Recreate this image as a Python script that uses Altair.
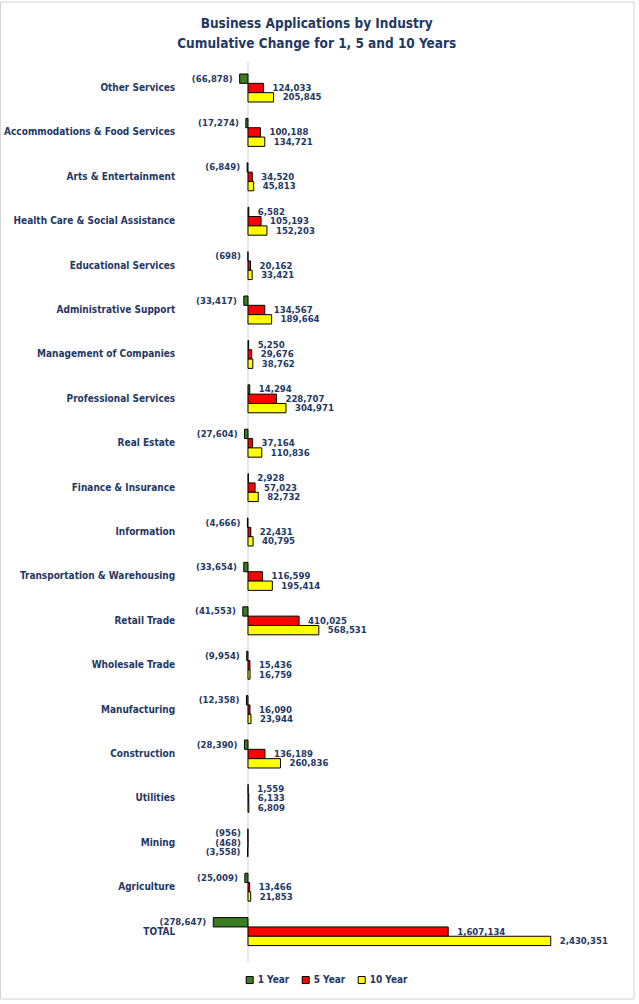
import altair as alt
import pandas as pd

industries = [
    "Other Services", "Accommodations & Food Services", "Arts & Entertainment",
    "Health Care & Social Assistance", "Educational Services", "Administrative Support",
    "Management of Companies", "Professional Services", "Real Estate",
    "Finance & Insurance", "Information", "Transportation & Warehousing",
    "Retail Trade", "Wholesale Trade", "Manufacturing", "Construction",
    "Utilities", "Mining", "Agriculture", "TOTAL",
]
one_year = [-66878, -17274, -6849, 6582, -698, -33417, 5250, 14294, -27604, 2928,
            -4666, -33654, -41553, -9954, -12358, -28390, 1559, -956, -25009, -278647]
five_year = [124033, 100188, 34520, 105193, 20162, 134567, 29676, 228707, 37164, 57023,
             22431, 116599, 410025, 15436, 16090, 136189, 6133, -468, 13466, 1607134]
ten_year = [205845, 134721, 45813, 152203, 33421, 189664, 38762, 304971, 110836, 82732,
            40795, 195414, 568531, 16759, 23944, 260836, 6809, -3558, 21853, 2430351]
series_names = ["1 Year", "5 Year", "10 Year"]
series_colors = ["#3B7D23", "#FF0000", "#FFFF00"]

rows = []
for i, ind in enumerate(industries):
    for s, vals in zip(series_names, [one_year, five_year, ten_year]):
        v = vals[i]
        lab = f"{v:,}" if v >= 0 else f"({-v:,})"
        rows.append({"industry": ind, "series": s, "value": v, "label": lab})
df = pd.DataFrame(rows)

NAVY = "#1F3864"
FONT = "Liberation Sans Narrow, Arial Narrow, DejaVu Sans Condensed, sans-serif"

y_enc = alt.Y("industry:N", sort=industries,
              scale=alt.Scale(paddingInner=0.37, paddingOuter=0.185),
              axis=alt.Axis(title=None, domain=False, ticks=False, labelFontWeight="bold",
                            labelFontSize=10, labelColor=NAVY, labelFont=FONT,
                            labelPadding=11, labelLimit=300))
yoff = alt.YOffset("series:N", sort=series_names)
x_enc = alt.X("value:Q", scale=alt.Scale(domain=[-500000, 3000000], nice=False, zero=False),
              axis=None)

base = alt.Chart(df)

bars = base.mark_bar(stroke="black", strokeWidth=1).encode(
    x=x_enc, y=y_enc, yOffset=yoff,
    color=alt.Color("series:N", sort=series_names,
                    scale=alt.Scale(domain=series_names, range=series_colors),
                    legend=alt.Legend(title=None, orient="none", direction="horizontal",
                                      legendX=59, legendY=909, symbolType="square",
                                      symbolSize=49, symbolStrokeColor="black",
                                      symbolStrokeWidth=1, labelFontWeight="bold",
                                      labelFontSize=10, labelColor=NAVY, labelFont=FONT,
                                      labelOffset=3, columnPadding=10)),
)

pos_text = base.transform_filter("datum.value >= 0").mark_text(
    align="left", baseline="middle", dx=9, fontWeight="bold", fontSize=9.5,
    color=NAVY, font=FONT
).encode(x=x_enc, y=y_enc, yOffset=yoff, text="label:N")

neg_text = base.transform_filter("datum.value < 0").mark_text(
    align="right", baseline="middle", dx=-7, fontWeight="bold", fontSize=9.5,
    color=NAVY, font=FONT
).encode(x=x_enc, y=y_enc, yOffset=yoff, text="label:N")

zero_line = alt.Chart(pd.DataFrame({"z": [0]})).mark_rule(color="#D0D0D0", strokeWidth=1).encode(
    x=alt.X("z:Q", scale=alt.Scale(domain=[-500000, 3000000], nice=False, zero=False), axis=None),
    y=alt.value(-4), y2=alt.value(896),
)

# chart-area frame (light grey border around whole chart)
frame = alt.Chart(pd.DataFrame({"f": [0]})).mark_rect(
    fill=None, stroke="#D4D4D4", strokeWidth=1
).encode(
    x=alt.value(-185.2), x2=alt.value(448.3), y=alt.value(-63.8), y2=alt.value(933.2)
)

chart = alt.layer(frame, zero_line, bars, pos_text, neg_text).properties(
    width=436, height=888,
    title=alt.TitleParams(
        ["Business Applications by Industry", "Cumulative Change for 1, 5 and 10 Years"],
        fontSize=13.5, fontWeight="bold", color=NAVY, font=FONT, anchor="middle",
        dx=-87, offset=-49, lineHeight=20),
    autosize=alt.AutoSizeParams(type="none"),
    padding={"left": 185.7, "top": 65.8, "right": 17.3, "bottom": 50.2},
    background="white",
).configure_view(strokeWidth=0, stroke=None)

chart.save("out.html", embed_options={"renderer": "svg", "actions": False})
